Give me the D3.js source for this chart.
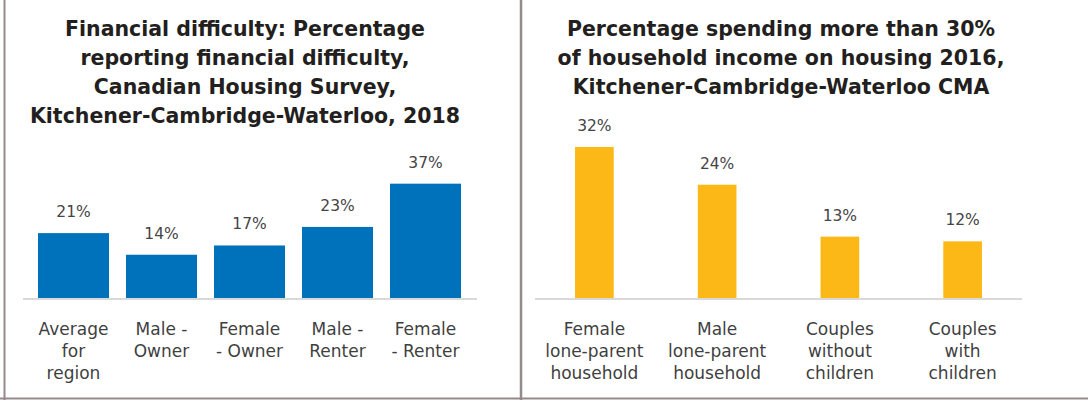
<!DOCTYPE html>
<html>
<head>
<meta charset="utf-8">
<script src="https://cdn.jsdelivr.net/npm/d3@7"></script>
<style>
  body{margin:0;background:#fff;}
  svg{display:block;}
  .title{font-family:"DejaVu Sans",sans-serif;font-weight:700;font-size:20.5px;fill:#231f20;}
  .val{font-family:"DejaVu Sans",sans-serif;font-weight:400;font-size:15.5px;fill:#454545;}
  .cat{font-family:"DejaVu Sans",sans-serif;font-weight:400;font-size:17px;fill:#3f3f3f;}
</style>
</head>
<body>
<svg width="1088" height="400"></svg>
<script>
// left chart data
var leftTitle = ["Financial difficulty: Percentage","reporting financial difficulty,","Canadian Housing Survey,","Kitchener-Cambridge-Waterloo, 2018"];
var leftCats = [["Average","for","region"],["Male -","Owner"],["Female","- Owner"],["Male -","Renter"],["Female","- Renter"]];
var leftVals = [21,14,17,23,37];

// right chart data
var rightTitle = ["Percentage spending more than 30%","of household income on housing 2016,","Kitchener-Cambridge-Waterloo CMA"];
var rightCats = [["Female","lone-parent","household"],["Male","lone-parent","household"],["Couples","without","children"],["Couples","with","children"]];
var rightVals = [32,24,13,12];

var svg = d3.select("svg");
var base = 298;

//边框
svg.append("line").attr("x1",4.5).attr("x2",4.5).attr("y1",0).attr("y2",400).attr("stroke","#958a8a").attr("stroke-width",2);
svg.append("line").attr("x1",521).attr("x2",521).attr("y1",0).attr("y2",400).attr("stroke","#958a8a").attr("stroke-width",2.5);
svg.append("line").attr("x1",0).attr("x2",1088).attr("y1",398.5).attr("y2",398.5).attr("stroke","#958a8a").attr("stroke-width",2);

function drawChart(opt){
	var g = svg.append("g");
	var x = d3.scaleBand().domain(d3.range(opt.vals.length)).range(opt.range)
	          .paddingInner(opt.pad).paddingOuter(opt.pad/2);
	var y = d3.scaleLinear().domain([0,opt.max]).range([base, base-opt.hpx]);

	// title
	g.append("text").attr("class","title").attr("text-anchor","middle")
	 .selectAll("tspan").data(opt.title).enter().append("tspan")
	 .attr("x",opt.cx).attr("y",function(d,i){return 36+i*29;})
	 .text(function(d){return d;});

	// baseline
	g.append("line").attr("x1",opt.line[0]).attr("x2",opt.line[1])
	 .attr("y1",y(0)+1).attr("y2",y(0)+1).attr("stroke","#d9d9d9").attr("stroke-width",2);

	g.selectAll(".bar").data(opt.vals).enter().append("rect")
	 .attr("class","bar")
	 .attr("x",function(d,i){return x(i);})
	 .attr("width",x.bandwidth())
	 .attr("y",function(d){return y(d);})
	 .attr("height",function(d){return y(0)-y(d);})
	 .attr("fill",opt.color);

	g.selectAll(".val").data(opt.vals).enter().append("text")
	 .attr("class","val").attr("text-anchor","middle")
	 .attr("x",function(d,i){return x(i)+x.bandwidth()/2;})
	 .attr("y",function(d){return y(d)-16;})
	 .text(function(d){return d+"%";});

	var cats = g.selectAll(".cat").data(opt.cats).enter().append("text")
	 .attr("class","cat").attr("text-anchor","middle");
	cats.each(function(lines,i){
		var cx = x(i)+x.bandwidth()/2;
		d3.select(this).selectAll("tspan").data(lines).enter().append("tspan")
		  .attr("x",cx).attr("y",function(d,j){return 335+j*22;})
		  .text(function(d){return d;});
	});
}

drawChart({title:leftTitle,cats:leftCats,vals:leftVals,color:"#0072bc",
	range:[29.5,469.5],pad:0.193,max:40,hpx:123.6,cx:245,line:[23,477]});
drawChart({title:rightTitle,cats:rightCats,vals:rightVals,color:"#fcb816",
	range:[533,1024],pad:0.685,max:35,hpx:165.2,cx:781,line:[535,1022]});
</script>
</body>
</html>
